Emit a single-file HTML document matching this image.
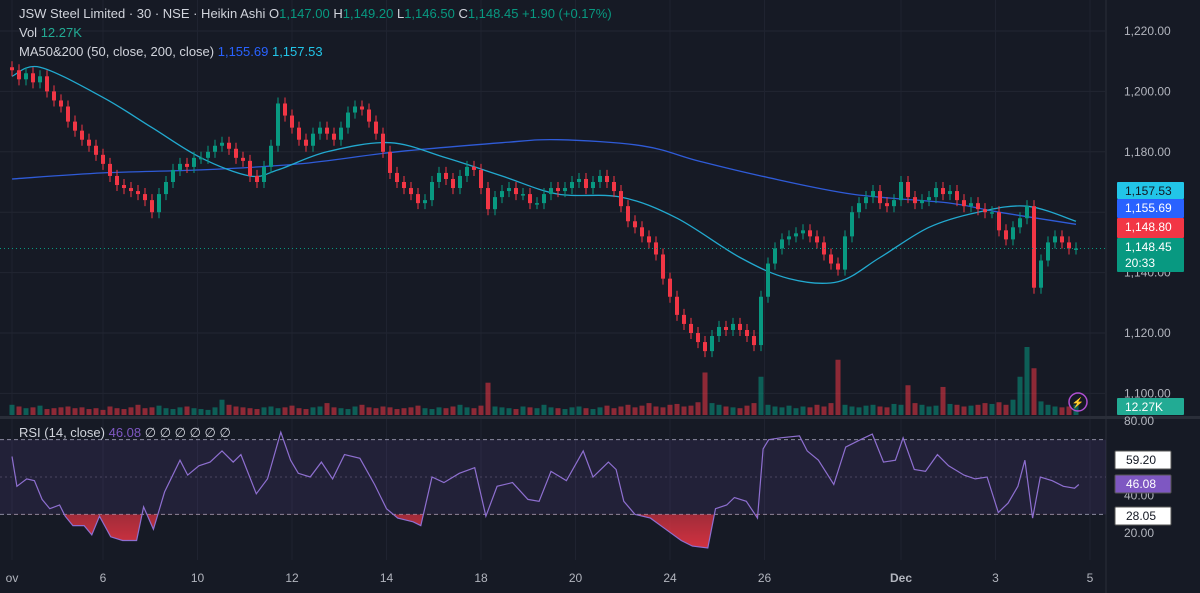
<!DOCTYPE html>
<html><head><meta charset="utf-8"><style>
html,body{margin:0;padding:0;background:#161a25;}
svg{display:block;font-family:"Liberation Sans",sans-serif;}
</style></head><body>
<svg id="c" width="1200" height="593" viewBox="0 0 1200 593" xmlns="http://www.w3.org/2000/svg">
<rect x="0" y="0" width="1200" height="593" fill="#161a25"/>
<g id="grid"></g>
<g id="vol"></g>
<g id="ma"></g>
<g id="candles"></g>
<g id="rsi"></g>
<g id="axes"></g>
<g font-size="13" fill="#d1d4dc">
<text x="19" y="18">JSW Steel Limited · 30 · NSE · Heikin Ashi <tspan>O</tspan><tspan fill="#089981">1,147.00</tspan> <tspan>H</tspan><tspan fill="#089981">1,149.20</tspan> <tspan>L</tspan><tspan fill="#089981">1,146.50</tspan> <tspan>C</tspan><tspan fill="#089981">1,148.45 +1.90 (+0.17%)</tspan></text>
<text x="19" y="37">Vol <tspan fill="#22ab94">12.27K</tspan></text>
<text x="19" y="56">MA50&amp;200 (50, close, 200, close) <tspan fill="#2962ff">1,155.69</tspan> <tspan fill="#22c5e8">1,157.53</tspan></text>
<text x="19" y="437">RSI (14, close) <tspan fill="#7e57c2">46.08</tspan> <tspan>∅ ∅ ∅ ∅ ∅ ∅</tspan></text>
</g>
</svg>
<script>
const closes=[1207,1204,1206,1203,1205,1200,1197,1195,1190,1187,1184,1182,1179,1176,1172,1169,1168,1167,1166,1164,1160,1166,1170,1174,1176,1175,1178,1178,1180,1182,1183,1181,1178,1177,1172,1170,1175,1182,1196,1192,1188,1184,1182,1186,1188,1186,1184,1188,1193,1195,1194,1190,1186,1180,1173,1170,1168,1166,1163,1164,1170,1173,1171,1168,1172,1175,1174,1168,1161,1165,1167,1168,1166,1166,1163,1163,1166,1168,1167,1168,1170,1171,1168,1170,1172,1170,1167,1162,1157,1155,1152,1150,1146,1138,1132,1126,1123,1120,1117,1114,1119,1122,1121,1123,1121,1119,1116,1132,1143,1148,1151,1152,1153,1154,1152,1150,1146,1143,1141,1152,1160,1163,1165,1167,1163,1162,1164,1170,1165,1163,1164,1165,1168,1166,1167,1164,1162,1163,1161,1160,1160,1154,1151,1155,1158,1162,1135,1144,1150,1152,1150,1148,1148];
const volumes=[12,10,8,9,11,7,8,9,10,8,9,7,8,6,10,8,7,9,12,8,9,11,8,7,9,10,8,7,6,9,18,12,10,9,8,7,9,10,8,9,11,8,7,9,10,14,9,8,7,10,12,9,8,10,9,7,8,9,11,8,7,9,8,10,12,9,8,11,38,10,9,8,7,10,9,8,12,9,8,7,9,10,8,7,9,11,8,10,12,9,11,14,10,9,12,13,10,11,15,50,14,12,10,9,8,11,14,45,12,10,9,11,8,10,9,12,10,14,65,12,10,9,11,12,10,9,13,12,35,14,12,10,11,33,13,12,10,11,12,14,13,15,12,18,45,80,55,16,12,10,9,10,12];
const ma200Idx=[0,13,27,41,55,70,78,90,98,107,120,134,141,152];
const ma200Val=[1171,1173,1174,1176,1180,1183,1184,1182,1177,1172,1166,1163,1160,1156];
const ma50Idx=[0,4,13,20,27,34,38,45,54,62,70,78,87,95,104,111,118,124,131,138,145,152];
const ma50Val=[1205,1208,1198,1188,1178,1172,1174,1180,1183,1178,1172,1166,1165,1158,1145,1138,1137,1145,1155,1160,1162,1157];
const rsiIdx=[0,0.7,2.1,3.2,4.3,5.4,6.8,7.6,8.7,10.3,11.4,12.5,14.1,15.8,17.8,18.8,20.2,21.8,24,25.1,26.7,28.3,30,31.6,32.7,34.9,36.5,38.4,39.8,40.9,42.6,44.2,45.8,47.5,49.7,51.8,53.5,55.1,57.3,58.4,60,61.7,63.9,66.1,67.7,69.3,71.5,73.7,75.3,77,79.2,81.6,83,85.2,86.3,87.4,89,91.2,93.4,95.6,97.2,99.4,100.5,102.1,103.2,104.9,106.5,107.3,108.1,109.8,112.5,113.6,115.2,117.4,119.1,121.2,122.9,124.5,126.2,127.3,128.9,130.5,132.2,133.8,136,137.6,139.3,140.9,142.3,143.7,144.7,145.8,146.9,148.6,150.2,151.8,152.4];
const rsiVal=[61,45,49,48,38,33,35,29,24,24,19,29,18,16,16,34,22,42,59,51,56,58,64,58,62,41,49,74,59,52,50,58,49,62,60,46,33,28,26,24,50,47,52,55,29,45,47,38,37,53,48,64,50,58,54,37,30,28,22,16,13,12,33,35,39,37,28,65,70,71,72,64,59,46,66,70,73,58,59,71,54,53,62,56,51,49,50,31,36,45,59,28,50,48,45,44,46];
const priceTicks=[1100,1120,1140,1180,1200,1220];
const rsiTicks=[20,40,80];
const xLabels=["ov","6","10","12","14","18","20","24","26","Dec","3","5"];
const xLabelIdx=[0,13,26.5,40,53.5,67,80.5,94,107.5,127,140.5,154];

const NS="http://www.w3.org/2000/svg";
const X=i=>12+7*i;
const Y=p=>31+(1220-p)*3.02;
const RY=v=>421+(80-v)*1.867;
function mk(tag,attrs,parent){const e=document.createElementNS(NS,tag);for(const k in attrs)e.setAttribute(k,attrs[k]);parent.appendChild(e);return e;}
const grid=document.getElementById('grid'),vol=document.getElementById('vol'),ma=document.getElementById('ma'),cg=document.getElementById('candles'),rg=document.getElementById('rsi'),ax=document.getElementById('axes');

priceTicks.concat([1160]).forEach(p=>{const l=mk('line',{x1:0,x2:1105,y1:Y(p),y2:Y(p),stroke:'#222632'},grid);

});
xLabelIdx.forEach(i=>{const l=mk('line',{x1:X(i),x2:X(i),y1:0,y2:560,stroke:'#1f2330'},grid);

});
let sep=mk('rect',{x:0,y:416,width:1200,height:3,fill:'#2a2e39'},grid);


let vs=mk('line',{x1:1106,x2:1106,y1:0,y2:593,stroke:'#2a2e39'},grid);



volumes.forEach((v,i)=>{const up=i===0||closes[i]>=closes[i-1];
const h=v*0.85;
const r=mk('rect',{x:X(i)-2.5,y:415-h,width:5,height:h,fill:up?'rgba(8,153,129,0.55)':'rgba(242,54,69,0.55)'},vol);

});

function smooth(idx,val){const P=idx.map((i,k)=>[X(i),Y(val[k])]);let d='M'+P[0][0]+' '+P[0][1];
for(let k=0;k<P.length-1;k++){const p0=P[Math.max(0,k-1)],p1=P[k],p2=P[k+1],p3=P[Math.min(P.length-1,k+2)];
const c1=[p1[0]+(p2[0]-p0[0])/6,p1[1]+(p2[1]-p0[1])/6],c2=[p2[0]-(p3[0]-p1[0])/6,p2[1]-(p3[1]-p1[1])/6];
d+=' C'+c1.map(v=>v.toFixed(1)).join(' ')+' '+c2.map(v=>v.toFixed(1)).join(' ')+' '+p2[0].toFixed(1)+' '+p2[1].toFixed(1);}return d;}
function line(idx,val,color,name){const p=mk('path',{d:smooth(idx,val),fill:'none',stroke:color,'stroke-width':1.3},ma);

}
line(ma200Idx,ma200Val,'#2f5bd8','ma200-line');
line(ma50Idx,ma50Val,'#22a9cf','ma50-line');

closes.forEach((c,i)=>{const o=i===0?c+1:closes[i-1];const up=c>=o;const col=up?'#089981':'#f23645';
const hi=Math.max(o,c)+2,lo=Math.min(o,c)-2;
const w=mk('line',{x1:X(i),x2:X(i),y1:Y(hi),y2:Y(lo),stroke:col,'stroke-width':1},cg);


const top=Y(Math.max(o,c)),h=Math.max(1.5,Math.abs(Y(o)-Y(c)));
const b=mk('rect',{x:X(i)-2,y:top,width:4,height:h,fill:col},cg);

});
const last=closes[closes.length-1];
let cl=mk('line',{x1:0,x2:1106,y1:Y(last),y2:Y(last),stroke:'#089981','stroke-dasharray':'1 3'},cg);



let band=mk('rect',{x:0,y:RY(70),width:1106,height:RY(30)-RY(70),fill:'rgba(126,87,194,0.12)'},rg);


[70,50,30].forEach(v=>{const l=mk('line',{x1:0,x2:1106,y1:RY(v),y2:RY(v),stroke:v===50?'#4a4560':'#8a8aa0','stroke-dasharray':v===50?'2 3':'4 3'},rg);

});
const defs=mk('defs',{},rg);
const cp=mk('clipPath',{id:'os'},defs);mk('rect',{x:0,y:RY(30),width:1106,height:80},cp);
const gr=mk('linearGradient',{id:'osg',x1:0,y1:0,x2:0,y2:1},defs);
mk('stop',{offset:'0','stop-color':'rgba(242,54,69,0.1)'},gr);mk('stop',{offset:'1','stop-color':'rgba(242,54,69,0.85)'},gr);
const pts=rsiIdx.map((i,k)=>X(i).toFixed(1)+' '+RY(rsiVal[k]).toFixed(1));
const fa=mk('path',{d:'M'+X(rsiIdx[0])+' '+RY(30)+' L'+pts.join(' L')+' L'+X(rsiIdx[rsiIdx.length-1])+' '+RY(30)+' Z',fill:'url(#osg)','clip-path':'url(#os)'},rg);


const rl=mk('path',{d:'M'+pts.join(' L'),fill:'none',stroke:'#8e6fd0','stroke-width':1.2},rg);



function txt(x,y,s,attrs,name,parent){const t=mk('text',Object.assign({x:x,y:y},attrs),parent||ax);t.textContent=s;

return t;}
priceTicks.forEach(p=>txt(1124,Y(p)+4,p.toLocaleString('en-US',{minimumFractionDigits:2}),{fill:'#b2b5be','font-size':12},'price-tick'));
rsiTicks.forEach(v=>txt(1124,RY(v)+4,v.toFixed(2),{fill:'#b2b5be','font-size':12},'rsi-tick'));
xLabels.forEach((s,k)=>txt(X(xLabelIdx[k]),582,s,{fill:'#b2b5be','font-size':12,'text-anchor':'middle','font-weight':s==='Dec'?'bold':'normal'},'time-tick'));
function badge(y,h,bg,fg,lines,name){const r=mk('rect',{x:1117,y:y,width:67,height:h,fill:bg,rx:1},ax);


lines.forEach((s,k)=>txt(1125,y+13+k*16,s,{fill:fg,'font-size':12},name+'-text'));}
badge(182,17,'#22c5e8','#131722',['1,157.53'],'ma50-price-badge');
badge(199,19,'#2962ff','#ffffff',['1,155.69'],'ma200-price-badge');
badge(218,20,'#f23645','#ffffff',['1,148.80'],'prev-close-badge');
badge(238,34,'#089981','#ffffff',['1,148.45','20:33'],'last-price-badge');
badge(398,17,'#22ab94','#ffffff',['12.27K'],'volume-badge');
const wb=(y,s,name,bg,fg)=>{const r=mk('rect',{x:1115,y:y,width:56,height:18,fill:bg,stroke:'#555',rx:1},ax);


txt(1126,y+13,s,{fill:fg,'font-size':12},name+'-text');};
wb(451,'59.20','rsi-upper-badge','#ffffff','#131722');
wb(475,'46.08','rsi-value-badge','#7e57c2','#ffffff');
wb(507,'28.05','rsi-lower-badge','#ffffff','#131722');
const ic=mk('circle',{cx:1078,cy:402,r:9,fill:'none',stroke:'#b04fd1','stroke-width':1.5},ax);


txt(1078,406,'⚡',{fill:'#b04fd1','font-size':10,'text-anchor':'middle'},'alert-icon-glyph');
</script>
</body></html>
